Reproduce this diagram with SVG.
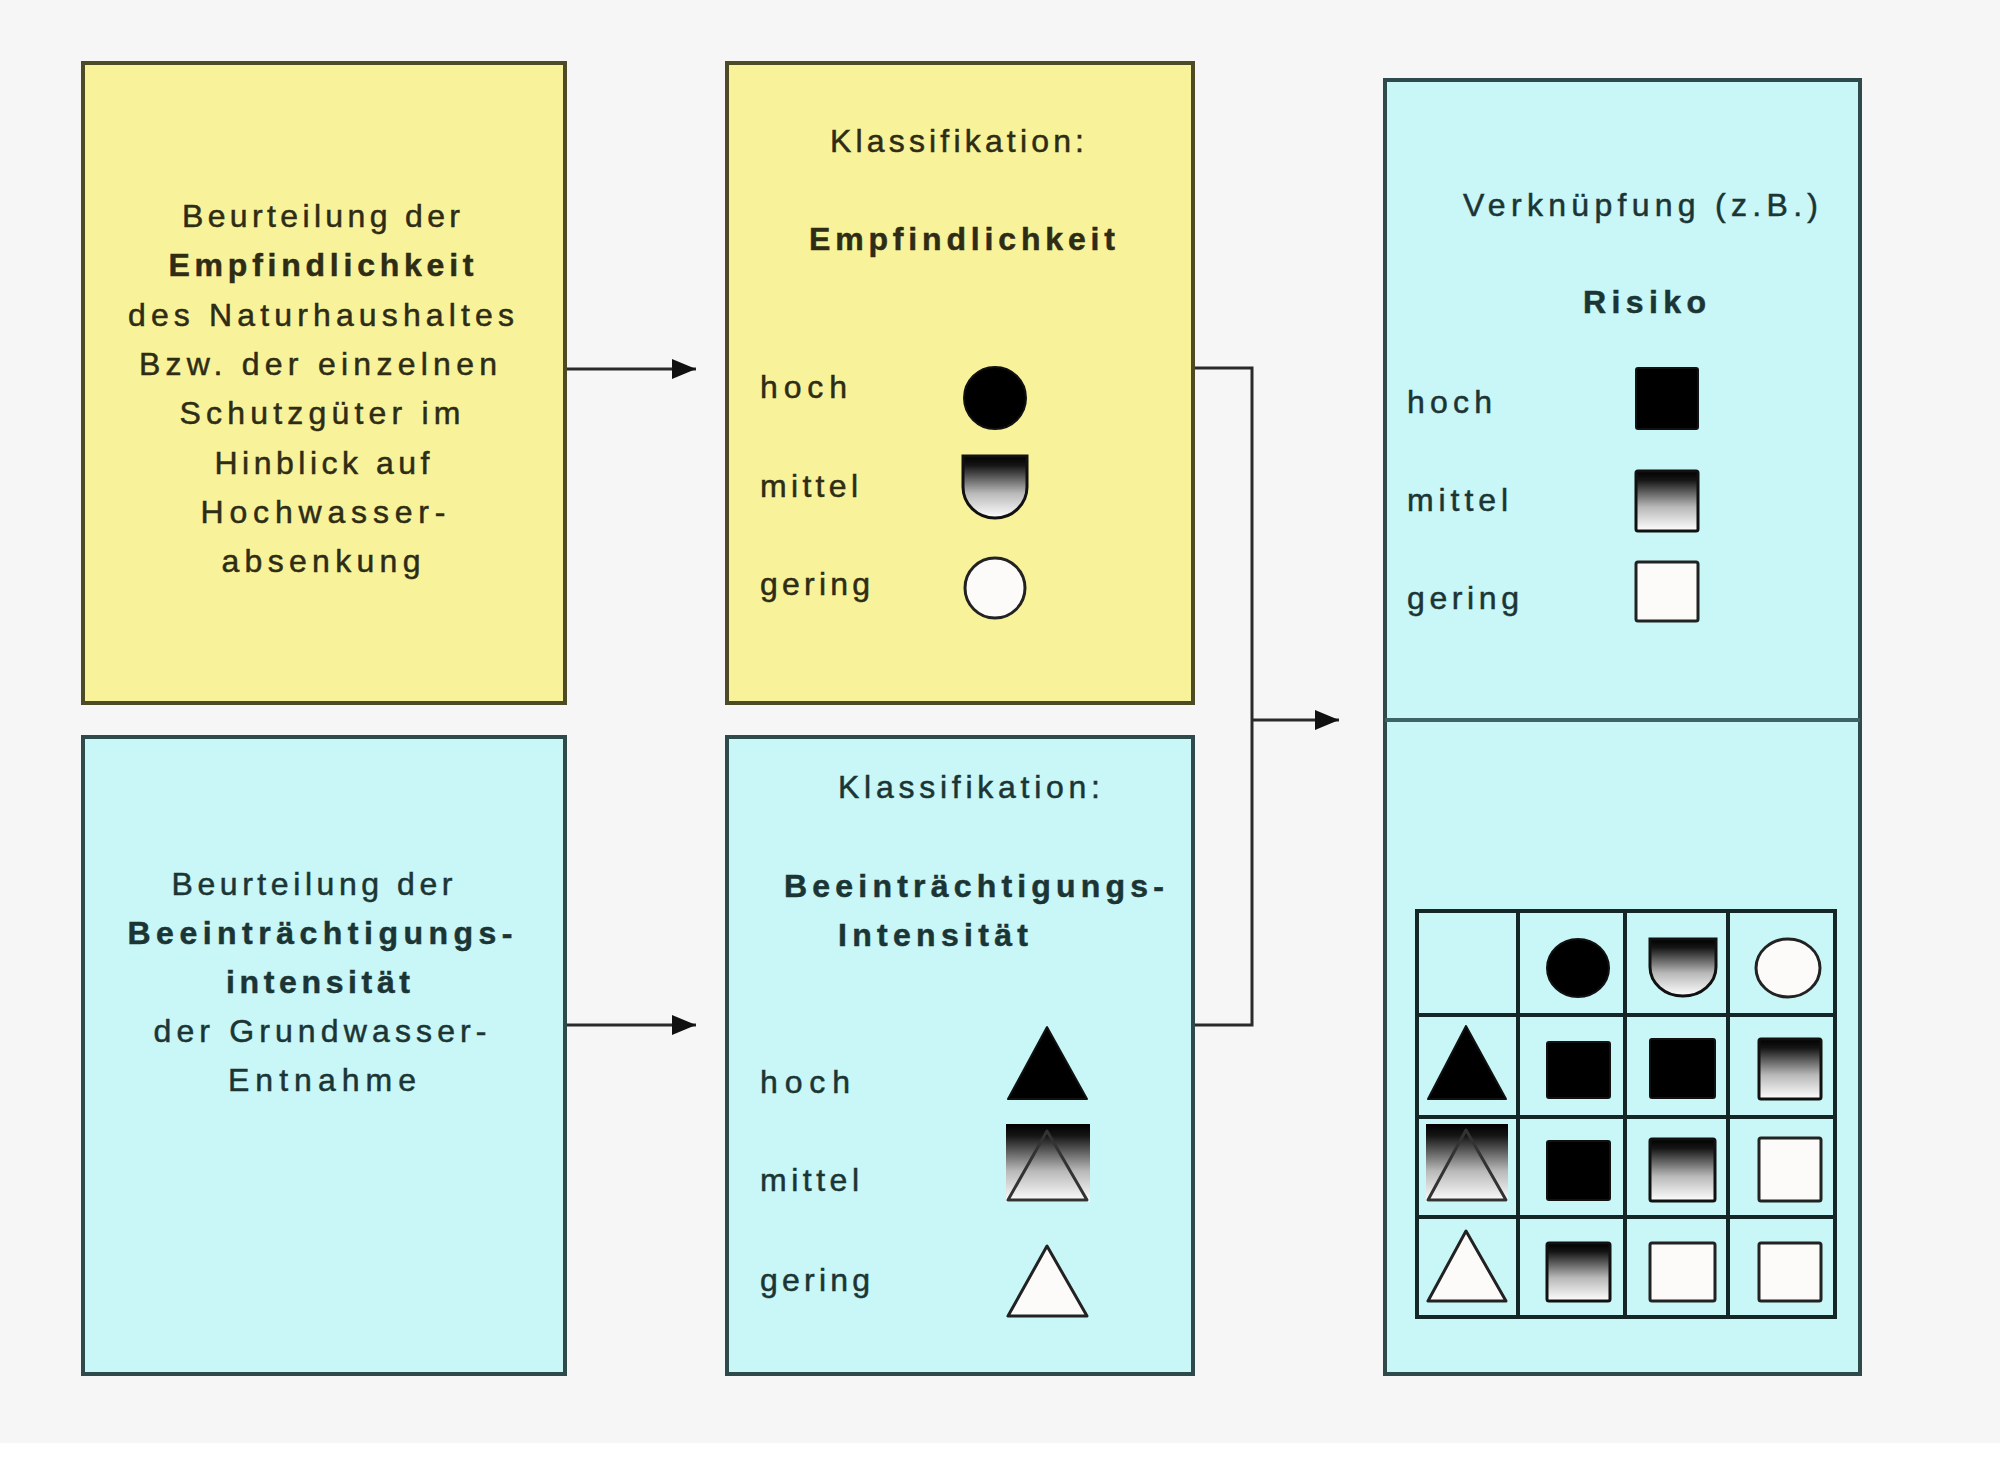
<svg xmlns="http://www.w3.org/2000/svg" width="2000" height="1467" viewBox="0 0 2000 1467">
<defs>
<style>
text{font-family:"Liberation Sans",Arial,sans-serif;font-size:32px;stroke-width:0.5px}
.ty{fill:#2e2c14;stroke:#2e2c14}
.tb{fill:#1b3535;stroke:#1b3535}
.b{font-weight:bold}
.m{text-anchor:middle}
.yel{fill:#f8f39b;stroke:#4d4a26;stroke-width:4}
.cyn{fill:#c9f6f6;stroke:#2f4a4a;stroke-width:4}
.conn{fill:none;stroke:#2a2a2a;stroke-width:3}
.blk{fill:#000;stroke:#111;stroke-width:2}
.grd{fill:url(#g);stroke:#111;stroke-width:3}
.wht{fill:#fdfafa;stroke:#222;stroke-width:3}
.tri{fill:none;stroke:#333;stroke-width:3;stroke-linejoin:round}
.grid{fill:none;stroke:#142626;stroke-width:4}
</style>
<linearGradient id="g" x1="0" y1="0" x2="0" y2="1">
<stop offset="0" stop-color="#000"/>
<stop offset="0.15" stop-color="#151515"/>
<stop offset="0.6" stop-color="#b8b8b8"/>
<stop offset="1" stop-color="#ffffff"/>
</linearGradient>
<marker id="ah" markerUnits="userSpaceOnUse" markerWidth="24" markerHeight="20" refX="24" refY="10" orient="auto">
<path d="M0,0 L24,10 L0,20 Z" fill="#111"/>
</marker>
</defs>
<rect x="0" y="0" width="2000" height="1467" fill="#ffffff"/>
<rect x="0" y="0" width="2000" height="1443" fill="#f6f6f6"/>

<g id="connectors">
<line class="conn" x1="565" y1="369" x2="696" y2="369" marker-end="url(#ah)"/>
<line class="conn" x1="565" y1="1025" x2="696" y2="1025" marker-end="url(#ah)"/>
<path class="conn" d="M1193,368 H1252 V1025 H1193"/>
<line class="conn" x1="1252" y1="720" x2="1339" y2="720" marker-end="url(#ah)"/>
</g>

<g id="beurteilung-empfindlichkeit">
<rect class="yel" x="83" y="63" width="482" height="640"/>
<text class="ty m" x="321" y="227" textLength="278" lengthAdjust="spacing">Beurteilung der</text>
<text class="ty m b" x="321" y="276" textLength="305" lengthAdjust="spacing">Empfindlichkeit</text>
<text class="ty m" x="321" y="326" textLength="386" lengthAdjust="spacing">des Naturhaushaltes</text>
<text class="ty m" x="318" y="375" textLength="358" lengthAdjust="spacing">Bzw. der einzelnen</text>
<text class="ty m" x="320" y="424" textLength="281" lengthAdjust="spacing">Schutzgüter im</text>
<text class="ty m" x="322" y="474" textLength="215" lengthAdjust="spacing">Hinblick auf</text>
<text class="ty m" x="323" y="523" textLength="245" lengthAdjust="spacing">Hochwasser-</text>
<text class="ty m" x="321" y="572" textLength="199" lengthAdjust="spacing">absenkung</text>
</g>

<g id="klassifikation-empfindlichkeit">
<rect class="yel" x="727" y="63" width="466" height="640"/>
<text class="ty" x="830" y="152" textLength="254" lengthAdjust="spacing">Klassifikation:</text>
<text class="ty b" x="809" y="250" textLength="306" lengthAdjust="spacing">Empfindlichkeit</text>
<text class="ty" x="760" y="398" textLength="87" lengthAdjust="spacing">hoch</text>
<text class="ty" x="760" y="497" textLength="98" lengthAdjust="spacing">mittel</text>
<text class="ty" x="760" y="595" textLength="110" lengthAdjust="spacing">gering</text>
<circle class="blk" cx="995" cy="398" r="31"/>
<path class="grd" d="M963,456 H1027 V487 A32,31 0 0 1 963,487 Z"/>
<circle class="wht" cx="995" cy="588" r="30"/>
</g>

<g id="beurteilung-beeintraechtigung">
<rect class="cyn" x="83" y="737" width="482" height="637"/>
<text class="tb m" x="312" y="895" textLength="281" lengthAdjust="spacing">Beurteilung der</text>
<text class="tb m b" x="320" y="944" textLength="385" lengthAdjust="spacing">Beeinträchtigungs-</text>
<text class="tb m b" x="318" y="993" textLength="184" lengthAdjust="spacing">intensität</text>
<text class="tb m" x="320" y="1042" textLength="333" lengthAdjust="spacing">der Grundwasser-</text>
<text class="tb m" x="322" y="1091" textLength="188" lengthAdjust="spacing">Entnahme</text>
</g>

<g id="klassifikation-intensitaet">
<rect class="cyn" x="727" y="737" width="466" height="637"/>
<text class="tb" x="838" y="798" textLength="262" lengthAdjust="spacing">Klassifikation:</text>
<text class="tb b" x="784" y="897" textLength="380" lengthAdjust="spacing">Beeinträchtigungs-</text>
<text class="tb b" x="838" y="946" textLength="190" lengthAdjust="spacing">Intensität</text>
<text class="tb" x="760" y="1093" textLength="90" lengthAdjust="spacing">hoch</text>
<text class="tb" x="760" y="1191" textLength="99" lengthAdjust="spacing">mittel</text>
<text class="tb" x="760" y="1291" textLength="110" lengthAdjust="spacing">gering</text>
<polygon points="1047,1027 1008,1099 1087,1099" fill="#000" stroke="#111" stroke-width="2" stroke-linejoin="round"/>
<rect x="1006" y="1124" width="84" height="78" fill="url(#g)"/>
<polygon class="tri" points="1047,1131 1008,1200 1087,1200"/>
<polygon class="wht" points="1047,1246 1008,1316 1087,1316" stroke-linejoin="round"/>
</g>

<g id="verknuepfung-risiko">
<rect class="cyn" x="1385" y="80" width="475" height="1294"/>
<line x1="1385" y1="720" x2="1860" y2="720" stroke="#3d6464" stroke-width="4"/>
<text class="tb" x="1463" y="216" textLength="355" lengthAdjust="spacing">Verknüpfung (z.B.)</text>
<text class="tb b" x="1583" y="313" textLength="123" lengthAdjust="spacing">Risiko</text>
<text class="tb" x="1407" y="413" textLength="85" lengthAdjust="spacing">hoch</text>
<text class="tb" x="1407" y="511" textLength="101" lengthAdjust="spacing">mittel</text>
<text class="tb" x="1407" y="609" textLength="112" lengthAdjust="spacing">gering</text>
<rect class="blk" x="1636" y="368" width="62" height="61" rx="2"/>
<rect class="grd" x="1636" y="471" width="62" height="60" rx="2"/>
<rect class="wht" x="1636" y="562" width="62" height="59" rx="2"/>
</g>

<g id="matrix">
<rect class="grid" x="1417" y="911" width="418" height="406"/>
<line class="grid" x1="1518" y1="911" x2="1518" y2="1317"/>
<line class="grid" x1="1625" y1="911" x2="1625" y2="1317"/>
<line class="grid" x1="1728" y1="911" x2="1728" y2="1317"/>
<line class="grid" x1="1417" y1="1015" x2="1835" y2="1015"/>
<line class="grid" x1="1417" y1="1117" x2="1835" y2="1117"/>
<line class="grid" x1="1417" y1="1217" x2="1835" y2="1217"/>
<ellipse class="blk" cx="1578" cy="968" rx="31" ry="29"/>
<path class="grd" d="M1650,939 H1716 V967 A33,29 0 0 1 1650,967 Z"/>
<ellipse class="wht" cx="1788" cy="968" rx="32" ry="29"/>
<polygon points="1466,1026 1428,1099 1506,1099" fill="#000" stroke="#111" stroke-width="2" stroke-linejoin="round"/>
<rect class="blk" x="1547" y="1042" width="63" height="56" rx="2"/>
<rect class="blk" x="1650" y="1039" width="65" height="59" rx="2"/>
<rect class="grd" x="1759" y="1039" width="62" height="60" rx="2"/>
<rect x="1426" y="1124" width="82" height="78" fill="url(#g)"/>
<polygon class="tri" points="1466,1130 1428,1200 1506,1200"/>
<rect class="blk" x="1547" y="1141" width="63" height="59" rx="2"/>
<rect class="grd" x="1650" y="1139" width="65" height="62" rx="2"/>
<rect class="wht" x="1759" y="1138" width="62" height="63" rx="2"/>
<polygon class="wht" points="1466,1231 1428,1301 1506,1301" stroke-linejoin="round"/>
<rect class="grd" x="1547" y="1243" width="63" height="58" rx="2"/>
<rect class="wht" x="1650" y="1243" width="65" height="58" rx="2"/>
<rect class="wht" x="1759" y="1243" width="62" height="58" rx="2"/>
</g>
</svg>
